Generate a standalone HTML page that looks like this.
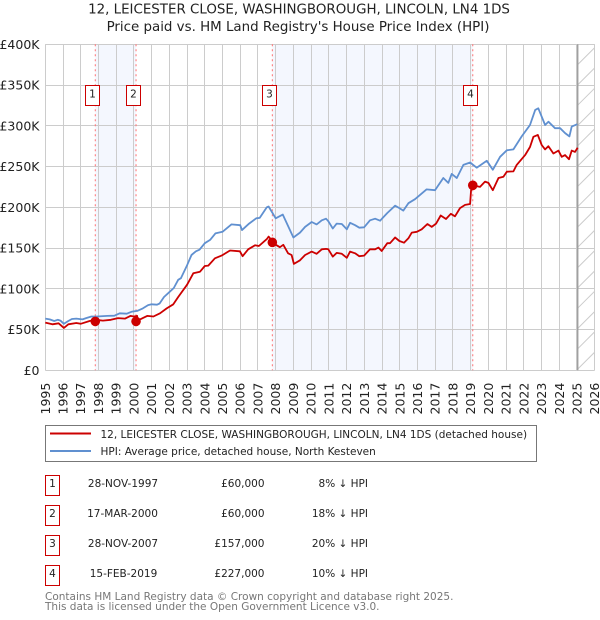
<!DOCTYPE html>
<html lang="en">
<head>
<meta charset="utf-8">
<title>12, Leicester Close price chart</title>
<style>
html,body{margin:0;padding:0;background:#fff;width:600px;height:620px;overflow:hidden}
svg{display:block;font-family:"DejaVu Sans","Liberation Sans",sans-serif}
text{fill:#222}
</style>
</head>
<body>
<svg id="chart" width="600" height="620" viewBox="0 0 600 620" xmlns="http://www.w3.org/2000/svg">
  <text x="299" y="13.5" text-anchor="middle" font-size="13.4">12, LEICESTER CLOSE, WASHINGBOROUGH, LINCOLN, LN4 1DS</text>
  <text x="298" y="31" text-anchor="middle" font-size="13.4">Price paid vs. HM Land Registry's House Price Index (HPI)</text>
  <g id="bands"></g>
  <g id="grid"></g>
  <g id="hatch"></g>
  <g id="saleLines"></g>
  <g id="series"></g>
  <g id="markers"></g>
  <g id="yTicks"></g>
  <g id="xTicks"></g>

  <g>
    <rect x="45.5" y="425.5" width="491" height="36" fill="#fff" stroke="#777" stroke-width="1"/>
    <line x1="50" x2="91" y1="433.5" y2="433.5" stroke="#cc0000" stroke-width="2"/>
    <text x="100.5" y="438" font-size="10.5">12, LEICESTER CLOSE, WASHINGBOROUGH, LINCOLN, LN4 1DS (detached house)</text>
    <line x1="50" x2="91" y1="451" y2="451" stroke="#6090d0" stroke-width="2"/>
    <text x="100.5" y="455" font-size="10.5">HPI: Average price, detached house, North Kesteven</text>
  </g>

  <g font-size="10.5">
    <g>
      <rect x="45.5" y="475.5" width="14" height="20" fill="#fff" stroke="#cc0000"/>
      <text x="52.5" y="487" text-anchor="middle">1</text>
      <text x="123" y="487" text-anchor="middle">28-NOV-1997</text>
      <text x="264.5" y="487" text-anchor="end">£60,000</text>
      <text x="368" y="487" text-anchor="end">8% ↓ HPI</text>
    </g>
    <g>
      <rect x="45.5" y="505.5" width="14" height="20" fill="#fff" stroke="#cc0000"/>
      <text x="52.5" y="517" text-anchor="middle">2</text>
      <text x="122.5" y="517" text-anchor="middle">17-MAR-2000</text>
      <text x="264.5" y="517" text-anchor="end">£60,000</text>
      <text x="368" y="517" text-anchor="end">18% ↓ HPI</text>
    </g>
    <g>
      <rect x="45.5" y="535.5" width="14" height="20" fill="#fff" stroke="#cc0000"/>
      <text x="52.5" y="547" text-anchor="middle">3</text>
      <text x="123" y="547" text-anchor="middle">28-NOV-2007</text>
      <text x="264.5" y="547" text-anchor="end">£157,000</text>
      <text x="368" y="547" text-anchor="end">20% ↓ HPI</text>
    </g>
    <g>
      <rect x="45.5" y="565.5" width="14" height="20" fill="#fff" stroke="#cc0000"/>
      <text x="52.5" y="577" text-anchor="middle">4</text>
      <text x="123.5" y="577" text-anchor="middle">15-FEB-2019</text>
      <text x="264.5" y="577" text-anchor="end">£227,000</text>
      <text x="368" y="577" text-anchor="end">10% ↓ HPI</text>
    </g>
  </g>
  <text x="45" y="600" font-size="10.5" style="fill:#777">Contains HM Land Registry data © Crown copyright and database right 2025.</text>
  <text x="45" y="610" font-size="10.5" style="fill:#777">This data is licensed under the Open Government Licence v3.0.</text>
</svg>
<script>
var yearTicks = [1995,1996,1997,1998,1999,2000,2001,2002,2003,2004,2005,2006,2007,2008,2009,2010,2011,2012,2013,2014,2015,2016,2017,2018,2019,2020,2021,2022,2023,2024,2025,2026];
var priceTicks = [0,50,100,150,200,250,300,350,400];
var priceTickLabels = ["£0","£50K","£100K","£150K","£200K","£250K","£300K","£350K","£400K"];

var hpiYears = [1995,1995.25,1995.5,1995.7,1995.85,1996.05,1996.3,1996.5,1996.75,1997.1,1997.3,1997.6,1997.9,1998.5,1998.9,1999.2,1999.6,1999.9,2000.2,2000.5,2000.8,2001,2001.3,2001.45,2001.7,2002,2002.25,2002.5,2002.65,2003,2003.25,2003.5,2003.7,2004,2004.3,2004.6,2005,2005.5,2006,2006.1,2006.5,2006.9,2007.1,2007.5,2007.6,2008,2008.4,2009,2009.37,2009.66,2010.03,2010.31,2010.6,2010.84,2010.97,2011.22,2011.44,2011.73,2012.01,2012.2,2012.48,2012.72,2012.99,2013.32,2013.61,2013.89,2014.3,2014.74,2014.98,2015.2,2015.49,2015.86,2016.51,2016.99,2017.46,2017.74,2017.93,2018.22,2018.59,2018.97,2019.34,2019.91,2020.25,2020.66,2021.04,2021.41,2021.88,2022.35,2022.64,2022.82,2023.2,2023.39,2023.76,2024.05,2024.33,2024.57,2024.7,2025.02];
var hpiValues = [63.4,62.5,60.5,62,61,57,60.5,63,63.4,62.5,64,66,66,66.7,67,70,69.5,72,73,76,80,81,80.5,82,90,96,101,111,113,129,141.5,146,148,156,160,168,170,179,178,172,180,186.5,187,200,201,186.5,191,163,169,176,182,179,184,186,183,174,180,179.5,173,181,178,175,175.5,184,186,183.6,193,202,199,196,205,210,222,221,236,230,241,236,252,255,248.6,257,246,262,270,271,287,301,319.5,321.5,301,305,297,297,291,287,299,302];

var priceYears = [1995,1995.4,1995.75,1996.05,1996.3,1996.75,1997,1997.5,1997.85,1998.25,1998.7,1999.1,1999.5,1999.8,2000,2000.18,2000.22,2000.5,2000.75,2001.1,2001.47,2001.85,2002.22,2002.5,2003,2003.35,2003.73,2004,2004.2,2004.57,2004.95,2005.42,2005.98,2006.13,2006.45,2006.83,2007.05,2007.5,2007.6,2007.96,2008.24,2008.43,2008.7,2008.9,2009.03,2009.37,2009.66,2010.03,2010.31,2010.6,2010.84,2010.97,2011.22,2011.44,2011.73,2012.01,2012.2,2012.48,2012.72,2012.99,2013.32,2013.61,2013.8,2013.98,2014.3,2014.45,2014.74,2014.98,2015.24,2015.49,2015.68,2015.96,2016.24,2016.56,2016.8,2017.05,2017.31,2017.61,2017.88,2018.12,2018.4,2018.69,2018.97,2019.02,2019.1,2019.53,2019.81,2020,2020.25,2020.57,2020.85,2021.04,2021.41,2021.6,2022.07,2022.35,2022.54,2022.79,2023.01,2023.2,2023.39,2023.67,2023.95,2024.14,2024.33,2024.55,2024.7,2024.89,2025.04];
var priceValues = [58.5,56.5,57.7,52,56.5,58,57,60.5,62,61,62,64,63.4,66.7,66,66.7,61,64,66.7,66,70,76,81,90,105,119,121,128,128.5,137.4,140.7,147,146,140,148.5,153.4,152.5,161,164,154.6,151,154,143.5,141.5,130.5,135,141.5,145.6,143,148.5,149,148.5,139.5,144,143,138,145.6,143.6,140,140.7,148.5,148.5,150.5,146.4,156,156,163,158.7,156.6,162,169,170,173,179.5,176,180,190,185.7,192,189,199,203,204,220,227,225,231.5,230,221,236,237.6,243.7,244,252,264,274,286.5,288.8,276.5,271,275,266,269.6,262,264,259,269.6,268,273];

var saleYears = [1997.82,2000.12,2007.81,2019.12];
var salePrices = [60,60,157,227];
var saleLabels = ["1","2","3","4"];
var dataEndYear = 2025.04;

var NS = "http://www.w3.org/2000/svg";
var plotLeft = 45.3, plotRight = 594.7, plotTop = 44.3, plotBottom = 370.3;
function xScale(year){ return plotLeft + (year - 1995) * (plotRight - plotLeft) / 31; }
function yScale(k){ return plotBottom - k * (plotBottom - plotTop) / 400; }
function crisp(v){ return Math.floor(v) + 0.5; }
function add(parentId, tag, attrs){
  var el = document.createElementNS(NS, tag);
  for (var key in attrs) el.setAttribute(key, attrs[key]);
  document.getElementById(parentId).appendChild(el);
  return el;
}
function pathFrom(years, values){
  var d = "";
  for (var i = 0; i < years.length; i++){
    d += (i ? "L" : "M") + xScale(years[i]).toFixed(1) + " " + yScale(values[i]).toFixed(1);
  }
  return d;
}

// shaded bands between alternate sales
var bandOne = add("bands", "rect", {x: xScale(saleYears[0]), y: plotTop, width: xScale(saleYears[1]) - xScale(saleYears[0]), height: plotBottom - plotTop, fill: "#f4f7fe"});


var bandTwo = add("bands", "rect", {x: xScale(saleYears[2]), y: plotTop, width: xScale(saleYears[3]) - xScale(saleYears[2]), height: plotBottom - plotTop, fill: "#f4f7fe"});



// grid and tick labels
yearTicks.forEach(function(yr){
  var gx = crisp(xScale(yr));
  var gl = add("grid", "line", {x1: gx, x2: gx, y1: plotTop, y2: plotBottom, stroke: "#cccccc", "stroke-width": 1});
  
  
  var lx = xScale(yr) + 4.5;
  var t = add("xTicks", "text", {x: lx, y: 414.5, "font-size": 12.5, transform: "rotate(-90 " + lx + " 414.5)"});
  t.textContent = yr;
  
  
});
priceTicks.forEach(function(k, i){
  var gy = crisp(yScale(k));
  var gl = add("grid", "line", {x1: plotLeft, x2: plotRight, y1: gy, y2: gy, stroke: "#cccccc", "stroke-width": 1});
  
  
  var t = add("yTicks", "text", {x: 39.5, y: yScale(k) + 4.5, "font-size": 12.5, "text-anchor": "end"});
  t.textContent = priceTickLabels[i];
  
  
});

// hatched no-data region: diagonals clamped to the plot area
var endX = xScale(dataEndYear);
var hatchWidth = plotRight - endX;
var hatchRise = hatchWidth;
for (var hy = plotTop - hatchRise; hy < plotBottom; hy += 20.3){
  var x1 = endX, y1 = hy + hatchRise, x2 = plotRight, y2 = hy;
  if (y2 < plotTop){ x2 = plotRight - (plotTop - y2); y2 = plotTop; }
  if (y1 > plotBottom){ x1 = endX + (y1 - plotBottom); y1 = plotBottom; }
  var h = add("hatch", "line", {x1: x1, y1: y1, x2: x2, y2: y2, stroke: "#cccccc", "stroke-width": 1});
  
  
}
var endLine = add("hatch", "line", {x1: endX, x2: endX, y1: plotTop, y2: plotBottom, stroke: "#a0a0a0", "stroke-width": 1.5});



// series
var hpiLine = add("series", "path", {d: pathFrom(hpiYears, hpiValues), fill: "none", stroke: "#6090d0", "stroke-width": 1.8, "stroke-linejoin": "round"});


var priceLine = add("series", "path", {d: pathFrom(priceYears, priceValues), fill: "none", stroke: "#cc0000", "stroke-width": 1.8, "stroke-linejoin": "round"});



// sale markers, date lines, numbered badges
saleYears.forEach(function(yr, i){
  var sx = xScale(yr);
  var dl = add("saleLines", "line", {x1: sx, x2: sx, y1: plotTop, y2: plotBottom, stroke: "#ff7070", "stroke-width": 1, "stroke-dasharray": "2 3"});
  
  
  var c = add("markers", "circle", {cx: sx, cy: yScale(salePrices[i]), r: 4.8, fill: "#cc0000"});
  
  
  var b = add("markers", "rect", {x: Math.round(sx - 10) + 0.5, y: 85.5, width: 14, height: 20, fill: "#fff", stroke: "#cc0000", "stroke-width": 1});
  
  
  var t = add("markers", "text", {x: Math.round(sx - 10) + 7.5, y: 97.5, "font-size": 10.5, "text-anchor": "middle"});
  t.textContent = saleLabels[i];
  
  
});
</script>
</body>
</html>
